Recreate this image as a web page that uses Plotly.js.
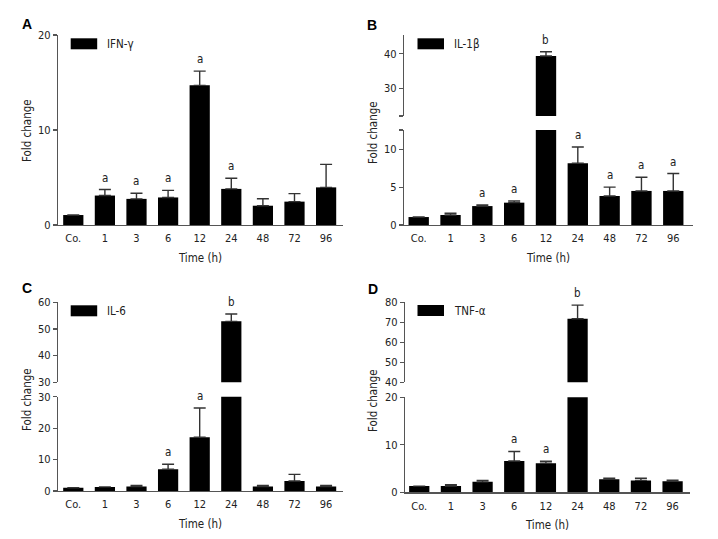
<!DOCTYPE html>
<html>
<head>
<meta charset="utf-8">
<script src="https://cdn.plot.ly/plotly-3.0.1.min.js"></script>
<style>html,body{margin:0;padding:0;background:#fff}#chart{width:718px;height:539px}</style>
</head>
<body>
<div id="chart"></div>
<script>
// ---- data ----
const categories = ['Co.', '1', '3', '6', '12', '24', '48', '72', '96'];

const ifnValues = [1.05, 3.1, 2.75, 2.9, 14.7, 3.8, 2.03, 2.46, 3.96];
const ifnErrors = [0, 0.63, 0.6, 0.74, 1.5, 1.12, 0.74, 0.84, 2.42];
const ifnMarks  = ['', 'a', 'a', 'a', 'a', 'a', '', '', ''];

const il1Values = [1.05, 1.32, 2.5, 2.95, 39.4, 8.15, 3.83, 4.5, 4.5];
const il1Errors = [0, 0.23, 0.15, 0.22, 1.2, 2.15, 1.17, 1.8, 2.3];
const il1Marks  = ['', '', 'a', 'a', 'b', 'a', 'a', 'a', 'a'];

const il6Values = [1.05, 1.3, 1.4, 6.9, 17.1, 52.85, 1.4, 3.2, 1.4];
const il6Errors = [0, 0, 0.4, 1.6, 9.3, 2.75, 0.4, 2.1, 0.4];
const il6Marks  = ['', '', '', 'a', 'a', 'b', '', '', ''];

const tnfValues = [1.3, 1.3, 2.2, 6.6, 6.1, 71.8, 2.75, 2.5, 2.3];
const tnfErrors = [0, 0.3, 0.3, 2.0, 0.45, 6.8, 0.2, 0.45, 0.25];
const tnfMarks  = ['', '', '', 'a', 'a', 'b', '', '', ''];

// ---- helpers ----
const W = 718, H = 539;
const fx = p => p / W;
const fy = p => 1 - p / H;
const FONT = 'DejaVu Sans Condensed, DejaVu Sans, sans-serif';
const AXC = '#555555';
const TXT = '#222222';

const traces = [];
const annotations = [];
const shapes = [];
const layout = {
  width: W, height: H,
  margin: {l: 0, r: 0, t: 0, b: 0},
  paper_bgcolor: '#fff', plot_bgcolor: 'rgba(0,0,0,0)',
  showlegend: false,
  bargap: 0.36,
  font: {family: FONT, size: 11, color: TXT}
};

function xAxis(name, d0, d1, r0, r1, anchor) {
  layout[name] = {
    domain: [fx(d0), fx(d1)], range: [r0, r1], anchor: anchor,
    type: 'category', showline: true, linecolor: AXC, linewidth: 1.2,
    showgrid: false, zeroline: false, ticks: '', ticklabelstandoff: 3,
    tickfont: {family: FONT, size: 11, color: TXT},
    title: {text: 'Time (h)', font: {family: FONT, size: 11.5, color: TXT}, standoff: 9},
    fixedrange: true
  };
}
function yAxis(name, pBottom, pTop, range, tickvals, ticktext, anchor) {
  layout[name] = {
    domain: [fy(pBottom), fy(pTop)], range: range, anchor: anchor,
    showline: true, linecolor: AXC, linewidth: 1.2,
    showgrid: false, zeroline: false,
    ticks: 'outside', ticklen: 4, tickwidth: 1.2, tickcolor: AXC,
    tickvals: tickvals, ticktext: ticktext,
    tickfont: {family: FONT, size: 11, color: TXT},
    fixedrange: true
  };
}
function barTrace(xa, ya, vals, errs) {
  return {
    type: 'bar', x: categories, y: vals, xaxis: xa, yaxis: ya,
    marker: {color: '#000', line: {width: 0}},
    error_y: {type: 'data', symmetric: false, array: errs,
      arrayminus: errs.map(() => 0), color: '#333', thickness: 1.4, width: 6, visible: true},
    hoverinfo: 'skip'
  };
}
function marks(xa, ya, vals, errs, labels, keep) {
  labels.forEach((t, i) => {
    if (!t || !keep(vals[i])) return;
    annotations.push({
      xref: xa, yref: ya, x: i, y: vals[i] + errs[i],
      text: t, showarrow: false, yanchor: 'bottom', yshift: 3,
      font: {family: FONT, size: 11.5, color: TXT}
    });
  });
}
function panelDecor(letter, lx, ly, name, rx0, ry0, ytx, yty) {
  annotations.push({xref: 'paper', yref: 'paper', x: fx(lx), y: fy(ly),
    text: '<b>' + letter + '</b>', showarrow: false, xanchor: 'center', yanchor: 'middle',
    font: {family: 'Liberation Sans, Arial, sans-serif', size: 14, color: '#000'}});
  shapes.push({type: 'rect', xref: 'paper', yref: 'paper',
    x0: fx(rx0), x1: fx(rx0 + 26.5), y0: fy(ry0 + 11), y1: fy(ry0),
    fillcolor: '#000', line: {width: 0}});
  annotations.push({xref: 'paper', yref: 'paper', x: fx(rx0 + 34), y: fy(ry0 + 5.5),
    text: name, showarrow: false, xanchor: 'left', yanchor: 'middle',
    font: {family: FONT, size: 11.5, color: TXT}});
  annotations.push({xref: 'paper', yref: 'paper', x: fx(ytx), y: fy(yty),
    text: 'Fold change', showarrow: false, textangle: -90, xanchor: 'center', yanchor: 'middle',
    font: {family: FONT, size: 11.5, color: TXT}});
}

// ---- Panel A: IFN-γ ----
xAxis('xaxis', 58, 343, -0.484, 8.535, 'y');
yAxis('yaxis', 225, 35, [0, 20], [0, 10, 20], ['0', '10', '20'], 'x');
traces.push(barTrace('x', 'y', ifnValues, ifnErrors));
marks('x', 'y', ifnValues, ifnErrors, ifnMarks, () => true);
panelDecor('A', 27, 24, 'IFN-γ', 70.7, 38.3, 27, 131);

// ---- Panel B: IL-1β (broken axis) ----
const bLow = [0, 12.55], bHigh = [21.9, 45.5];
xAxis('xaxis2', 404, 693, -0.462, 8.62, 'y2');
yAxis('yaxis2', 225, 130, bLow, [0, 5, 10, bLow[1]], ['0', '5', '10', ''], 'x2');
yAxis('yaxis3', 116, 35, bHigh, [bHigh[0], 30, 40], ['', '30', '40'], 'x2');
traces.push(barTrace('x2', 'y2', il1Values, il1Errors.map((e, i) => il1Values[i] > bLow[1] ? 0 : e)));
traces.push(barTrace('x2', 'y3', il1Values.map(v => v > bLow[1] ? v : null), il1Errors.map((e, i) => il1Values[i] > bLow[1] ? e : 0)));
marks('x2', 'y2', il1Values, il1Errors, il1Marks, v => v <= bLow[1]);
marks('x2', 'y3', il1Values, il1Errors, il1Marks, v => v > bLow[1]);
panelDecor('B', 372, 25, 'IL-1β', 417.5, 38.3, 373, 133);

// ---- Panel C: IL-6 (broken axis) ----
const cLow = [0, 30], cHigh = [30, 60];
xAxis('xaxis3', 58, 343, -0.484, 8.535, 'y4');
yAxis('yaxis4', 491, 396.7, cLow, [0, 10, 20, 30], ['0', '10', '20', '30'], 'x3');
yAxis('yaxis5', 382.3, 302.3, cHigh, [30, 40, 50, 60], ['30', '40', '50', '60'], 'x3');
traces.push(barTrace('x3', 'y4', il6Values, il6Errors.map((e, i) => il6Values[i] > cLow[1] ? 0 : e)));
traces.push(barTrace('x3', 'y5', il6Values.map(v => v > cLow[1] ? v : null), il6Errors.map((e, i) => il6Values[i] > cLow[1] ? e : 0)));
marks('x3', 'y4', il6Values, il6Errors, il6Marks, v => v <= cLow[1]);
marks('x3', 'y5', il6Values, il6Errors, il6Marks, v => v > cLow[1]);
panelDecor('C', 27, 288, 'IL-6', 70.7, 305.3, 27, 400);

// ---- Panel D: TNF-α (broken axis) ----
const dLow = [0, 20], dHigh = [40, 80];
xAxis('xaxis4', 405, 690, -0.45, 8.55, 'y6');
yAxis('yaxis6', 492.3, 397.3, dLow, [0, 10, 20], ['0', '10', '20'], 'x4');
yAxis('yaxis7', 382.3, 302.3, dHigh, [40, 50, 60, 70, 80], ['40', '50', '60', '70', '80'], 'x4');
traces.push(barTrace('x4', 'y6', tnfValues, tnfErrors.map((e, i) => tnfValues[i] > dLow[1] ? 0 : e)));
traces.push(barTrace('x4', 'y7', tnfValues.map(v => v > dLow[1] ? v : null), tnfErrors.map((e, i) => tnfValues[i] > dLow[1] ? e : 0)));
marks('x4', 'y6', tnfValues, tnfErrors, tnfMarks, v => v <= dLow[1]);
marks('x4', 'y7', tnfValues, tnfErrors, tnfMarks, v => v > dLow[1]);
panelDecor('D', 373, 289, 'TNF-α', 417.5, 305, 373, 401);

layout.annotations = annotations;
layout.shapes = shapes;

Plotly.newPlot('chart', traces, layout, {staticPlot: true, displayModeBar: false});
</script>
</body>
</html>
